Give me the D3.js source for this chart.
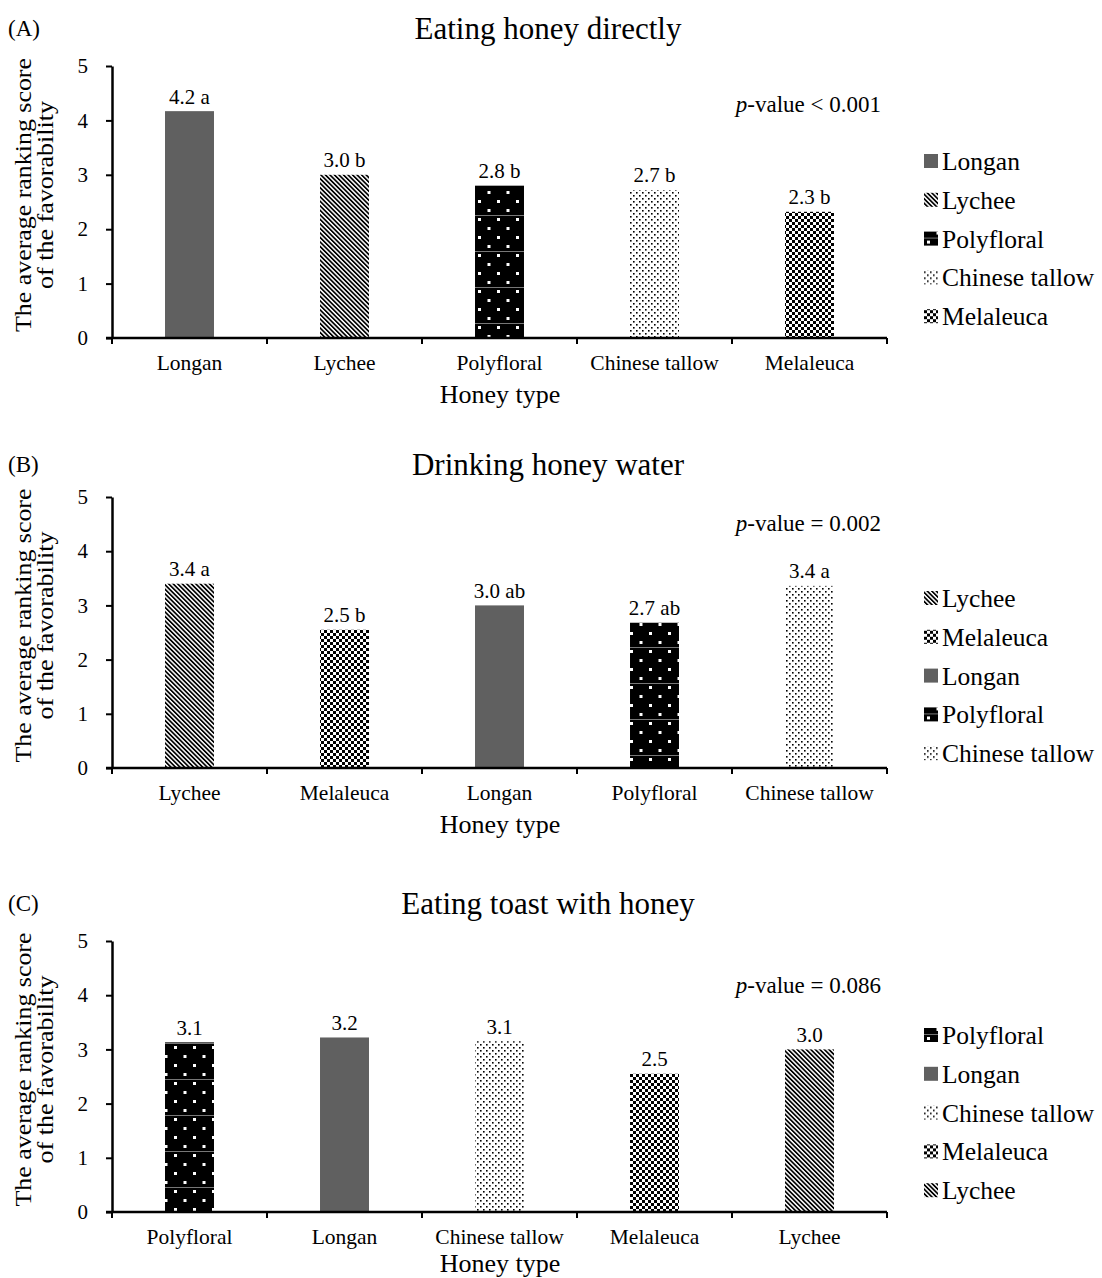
<!DOCTYPE html>
<meta charset="utf-8" />
<style>
    body { margin: 0; background: #fff; }
    text { font-family: "Liberation Serif", "Times New Roman", serif; fill: #000; }
</style>
<div id="chart"></div>
<script src="https://d3js.org/d3.v7.min.js"></script>
<script>

    // ---- data ----
    const panelLetters = ["(A)", "(B)", "(C)"];
    const panelTitles = ["Eating honey directly", "Drinking honey water", "Eating toast with honey"];
    const pValues = ["< 0.001", "= 0.002", "= 0.086"];

    const honeyA = ["Longan", "Lychee", "Polyfloral", "Chinese tallow", "Melaleuca"];
    const scoreA = [4.17, 3.0, 2.8, 2.72, 2.32];
    const labelA = ["4.2 a", "3.0 b", "2.8 b", "2.7 b", "2.3 b"];

    const honeyB = ["Lychee", "Melaleuca", "Longan", "Polyfloral", "Chinese tallow"];
    const scoreB = [3.4, 2.55, 3.0, 2.68, 3.36];
    const labelB = ["3.4 a", "2.5 b", "3.0 ab", "2.7 ab", "3.4 a"];

    const honeyC = ["Polyfloral", "Longan", "Chinese tallow", "Melaleuca", "Lychee"];
    const scoreC = [3.13, 3.22, 3.15, 2.55, 3.0];
    const labelC = ["3.1", "3.2", "3.1", "2.5", "3.0"];

    const yTicks = [0, 1, 2, 3, 4, 5];

    // ---- layout ----
    const W = 1102, H = 1278;
    const panelTop = [66, 497, 941];      // y of score 5
    const panelBottom = [338, 768, 1212]; // y of score 0
    const titleY = [28, 464, 903];
    const pValueY = [104, 523, 985];
    const legendY = [161, 598, 1035];
    const legendStep = 38.8;
    const xLeft = 112, xRight = 887;

    const svg = d3.select("#chart").append("svg")
        .attr("width", W)
        .attr("height", H);

    const defs = svg.append("defs");

    // fill patterns for each honey type
    const lych = defs.append("pattern").attr("id", "p-lychee")
        .attr("patternUnits", "userSpaceOnUse").attr("width", 3.2).attr("height", 3.2)
        .attr("patternTransform", "rotate(-45)");
    lych.append("rect").attr("width", 3.2).attr("height", 3.2).attr("fill", "#fff");
    lych.append("rect").attr("width", 1.7).attr("height", 3.2).attr("fill", "#000");

    const poly = defs.append("pattern").attr("id", "p-poly")
        .attr("patternUnits", "userSpaceOnUse").attr("width", 19).attr("height", 36);
    poly.append("rect").attr("width", 19).attr("height", 36).attr("fill", "#000");
    [[3, 2], [12.5, 11], [3, 20], [12.5, 29]].forEach(p => {
        poly.append("rect").attr("x", p[0]).attr("y", p[1]).attr("width", 3).attr("height", 3).attr("fill", "#fff");
    });
    poly.append("rect").attr("x", 0).attr("y", 35).attr("width", 19).attr("height", 1).attr("fill", "#777");

    const tallow = defs.append("pattern").attr("id", "p-tallow")
        .attr("patternUnits", "userSpaceOnUse").attr("width", 6).attr("height", 6);
    tallow.append("rect").attr("width", 6).attr("height", 6).attr("fill", "#fff");
    tallow.append("rect").attr("x", 0).attr("y", 0).attr("width", 1.6).attr("height", 1.6).attr("fill", "#000");
    tallow.append("rect").attr("x", 3).attr("y", 3).attr("width", 1.6).attr("height", 1.6).attr("fill", "#000");

    const mela = defs.append("pattern").attr("id", "p-mela")
        .attr("patternUnits", "userSpaceOnUse").attr("width", 6).attr("height", 6);
    mela.append("rect").attr("width", 6).attr("height", 6).attr("fill", "#fff");
    mela.append("rect").attr("width", 3).attr("height", 3).attr("fill", "#000");
    mela.append("rect").attr("x", 3).attr("y", 3).attr("width", 3).attr("height", 3).attr("fill", "#000");

    const fillOf = d3.scaleOrdinal()
        .domain(["Longan", "Lychee", "Polyfloral", "Chinese tallow", "Melaleuca"])
        .range(["#606060", "url(#p-lychee)", "url(#p-poly)", "url(#p-tallow)", "url(#p-mela)"]);

    const panels = [
        { honey: honeyA, score: scoreA, label: labelA },
        { honey: honeyB, score: scoreB, label: labelB },
        { honey: honeyC, score: scoreC, label: labelC }
    ];

    panels.forEach(function (p, k) {
        const g = svg.append("g");
        const rows = p.honey.map((h, i) => ({ honey: h, score: p.score[i], label: p.label[i] }));

        const x = d3.scaleBand()
            .domain(p.honey)
            .range([xLeft, xRight])
            .paddingInner(0.684)
            .paddingOuter(0.342);

        const y = d3.scaleLinear()
            .domain([0, 5])
            .range([panelBottom[k], panelTop[k]]);

        // panel letter + title
        g.append("text").attr("x", 8).attr("y", titleY[k]).attr("dy", "0.35em")
            .style("font-size", "23px").text(panelLetters[k]);
        g.append("text").attr("x", 548).attr("y", titleY[k]).attr("dy", "0.35em")
            .attr("text-anchor", "middle").style("font-size", "31px").text(panelTitles[k]);

        // bars
        g.selectAll("rect.bar")
            .data(rows)
            .join("rect")
            .attr("class", "bar")
            .attr("x", d => x(d.honey))
            .attr("y", d => y(d.score))
            .attr("width", x.bandwidth())
            .attr("height", d => y(0) - y(d.score))
            .attr("fill", d => fillOf(d.honey));

        // value labels
        g.selectAll("text.val")
            .data(rows)
            .join("text")
            .attr("class", "val")
            .attr("x", d => x(d.honey) + x.bandwidth() / 2)
            .attr("y", d => y(d.score) - 15)
            .attr("dy", "0.35em")
            .attr("text-anchor", "middle")
            .style("font-size", "21px")
            .text(d => d.label);

        // y axis
        const ya = g.append("g")
            .attr("transform", `translate(${xLeft},0)`)
            .call(d3.axisLeft(y).tickValues(yTicks).tickSize(6).tickPadding(18).tickSizeOuter(0).tickFormat(d3.format("d")));
        ya.select(".domain").attr("stroke-width", 2.5);
        ya.selectAll(".tick line").attr("stroke-width", 2);
        ya.selectAll(".tick text").style("font-size", "21px").attr("font-family", null);

        // x axis with ticks at the category boundaries
        g.append("line")
            .attr("x1", xLeft - 6).attr("x2", xRight)
            .attr("y1", y(0)).attr("y2", y(0))
            .attr("stroke", "#000").attr("stroke-width", 2.5);
        g.selectAll("line.xt")
            .data(d3.range(p.honey.length + 1))
            .join("line")
            .attr("class", "xt")
            .attr("x1", i => x.range()[0] + i * x.step())
            .attr("x2", i => x.range()[0] + i * x.step())
            .attr("y1", y(0)).attr("y2", y(0) + 6)
            .attr("stroke", "#000").attr("stroke-width", 2);
        g.selectAll("text.xl")
            .data(p.honey)
            .join("text")
            .attr("class", "xl")
            .attr("x", d => x(d) + x.bandwidth() / 2)
            .attr("y", y(0) + 24)
            .attr("dy", "0.35em")
            .attr("text-anchor", "middle")
            .style("font-size", "21.5px")
            .text(d => d);

        g.append("text")
            .attr("x", 500)
            .attr("y", y(0) + (k === 2 ? 51 : 56))
            .attr("dy", "0.35em")
            .attr("text-anchor", "middle")
            .style("font-size", "26px")
            .text("Honey type");

        // y axis title (two lines, stretched along its length like the original)
        const yc = (panelTop[k] + panelBottom[k]) / 2 - 7;
        const yt = g.append("text")
            .attr("transform", `translate(23,${yc}) rotate(-90)`)
            .attr("text-anchor", "middle")
            .style("font-size", "22.5px");
        yt.append("tspan").attr("x", 0).attr("dy", "0.35em")
            .attr("textLength", 274).attr("lengthAdjust", "spacingAndGlyphs")
            .text("The average ranking score");
        yt.append("tspan").attr("x", 0).attr("dy", "0.98em")
            .attr("textLength", 188).attr("lengthAdjust", "spacingAndGlyphs")
            .text("of the favorability");

        // p-value
        const pt = g.append("text")
            .attr("x", 881)
            .attr("y", pValueY[k])
            .attr("dy", "0.35em")
            .attr("text-anchor", "end")
            .style("font-size", "23px");
        pt.append("tspan").style("font-style", "italic").text("p");
        pt.append("tspan").text("-value " + pValues[k]);

        // legend
        const lg = g.selectAll("g.leg")
            .data(p.honey)
            .join("g")
            .attr("class", "leg")
            .attr("transform", (d, i) => `translate(924,${legendY[k] + i * legendStep})`);
        lg.append("rect")
            .attr("x", 0).attr("y", -7)
            .attr("width", 14).attr("height", 14)
            .attr("fill", d => fillOf(d));
        lg.append("text")
            .attr("x", 18)
            .attr("dy", "0.35em")
            .style("font-size", "25.5px")
            .text(d => d);
    });

</script>
